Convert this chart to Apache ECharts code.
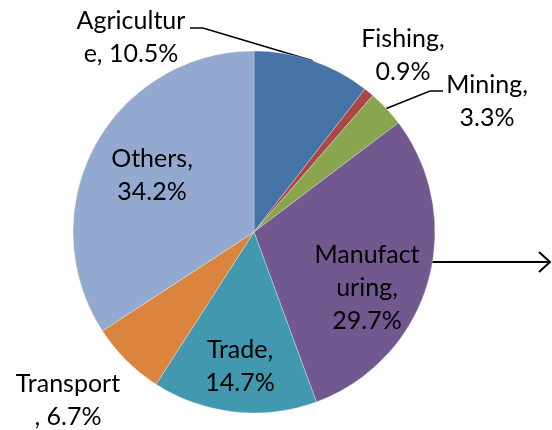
<!DOCTYPE html>
<html>
<head>
<meta charset="utf-8">
<script src="https://cdn.jsdelivr.net/npm/echarts@6/dist/echarts.min.js"></script>
<style>
html,body{margin:0;padding:0;background:#fff;}
#chart{width:552px;height:430px;}
</style>
</head>
<body>
<div id="chart"></div>
<script>
// Data
var categories = ['Agriculture', 'Fishing', 'Mining', 'Manufacturing', 'Trade', 'Transport', 'Others'];
var values = [10.5, 0.9, 3.3, 29.7, 14.7, 6.7, 34.2];
var labelTexts = ['Agricultur\ne, 10.5%', 'Fishing,\n0.9%', 'Mining,\n3.3%', 'Manufact\nuring,\n29.7%', 'Trade,\n14.7%', 'Transport\n, 6.7%', 'Others,\n34.2%'];

// Styles / layout (not data)
var colors = ['#4572A7', '#AA4643', '#89A54E', '#71588F', '#4198AF', '#DB843D', '#93A9CF'];
var labelCenters = [[131, 37], [403, 55], [487, 101], [367, 288], [240, 366], [68, 400], [152, 175]];
// leader lines: bend point, end point (anchor on slice edge comes from ECharts)
var leaders = { 0: [[203, 28], [190, 28]], 2: [[430, 91], [443, 91]] };

var FONT = 'Lato, "Open Sans", sans-serif';

var chart = echarts.init(document.getElementById('chart'), null, { renderer: 'canvas' });

var data = categories.map(function (c, i) {
  var hasLine = !!leaders[i];
  return {
    name: c,
    value: values[i],
    itemStyle: { color: colors[i] },
    label: {
      show: true,
      position: hasLine ? 'outside' : 'inside',
      formatter: labelTexts[i]
    },
    labelLine: { show: hasLine }
  };
});

chart.setOption({
  animation: false,
  backgroundColor: '#ffffff',
  series: [{
    type: 'pie',
    center: [254, 232],
    radius: [0, 181],
    startAngle: 90,
    clockwise: true,
    avoidLabelOverlap: false,
    itemStyle: { borderColor: 'rgba(255,255,255,0.6)', borderWidth: 0.5 },
    label: {
      color: '#000',
      fontFamily: FONT,
      fontSize: 25,
      lineHeight: 33,
      align: 'center'
    },
    labelLine: {
      lineStyle: { color: '#000', width: 1.6 },
      length: 10, length2: 10
    },
    labelLayout: function (params) {
      var i = params.dataIndex;
      var c = labelCenters[i];
      var res = { x: c[0], y: c[1], align: 'center', verticalAlign: 'middle' };
      if (leaders[i] && params.labelLinePoints) {
        var a = params.labelLinePoints[0];
        res.labelLinePoints = [a, leaders[i][0], leaders[i][1]];
      }
      return res;
    },
    data: data
  }],
  graphic: [{
    type: 'group',
    silent: true,
    children: [
      { type: 'line', shape: { x1: 413, y1: 262, x2: 550, y2: 262 }, style: { stroke: '#000', lineWidth: 2 } },
      { type: 'polyline', shape: { points: [[539, 252], [550, 262], [539, 272]] }, style: { stroke: '#000', lineWidth: 2, fill: null } }
    ]
  }]
});
</script>
</body>
</html>
